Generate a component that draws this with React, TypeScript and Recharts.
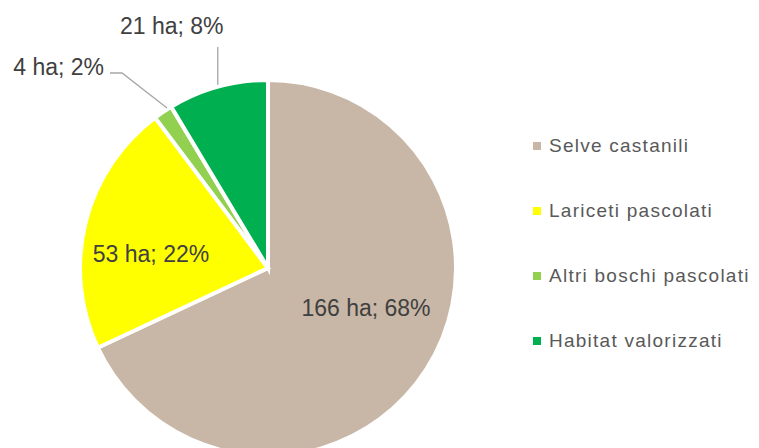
import React from "react";
import { PieChart, Pie, Cell, Legend } from "recharts";

const categories = ["Selve castanili", "Lariceti pascolati", "Altri boschi pascolati", "Habitat valorizzati"];
const hectares = [166, 53, 4, 21];
const percents = [68, 22, 2, 8];
const colors = ["#C8B7A6", "#FFFF00", "#92D050", "#00B050"];

const data = categories.map((name, i) => ({ name, value: hectares[i], pct: percents[i] }));

const RAD = Math.PI / 180;
const LABEL_FONT = "'Liberation Sans', Arial, sans-serif";

const renderLabel = (props: any) => {
  const { cx, cy, midAngle, outerRadius, index } = props;
  const text = `${hectares[index]} ha; ${percents[index]}%`;
  const common = { fill: "#404040", fontSize: 23, fontFamily: LABEL_FONT };
  const ex = cx + outerRadius * Math.cos(-midAngle * RAD);
  const ey = cy + outerRadius * Math.sin(-midAngle * RAD);
  if (index === 0) {
    return <text x={cx + 98} y={cy + 48} textAnchor="middle" {...common}>{text}</text>;
  }
  if (index === 1) {
    return <text x={cx - 117} y={cy - 6} textAnchor="middle" {...common}>{text}</text>;
  }
  if (index === 2) {
    return (
      <g>
        <polyline points={`${ex + 4},${ey - 4} ${cx - 146},${cy - 195} ${cx - 158},${cy - 195}`} fill="none" stroke="#A6A6A6" strokeWidth={1.3} />
        <text x={cx - 164} y={cy - 193} textAnchor="end" {...common}>{text}</text>
      </g>
    );
  }
  return (
    <g>
      <line x1={ex} y1={ey - 2} x2={ex} y2={cy - 221} stroke="#A6A6A6" strokeWidth={1.3} />
      <text x={ex - 46} y={cy - 234} textAnchor="middle" {...common}>{text}</text>
    </g>
  );
};

const renderLegend = () => {
  return (
    <div>
      {categories.map((name, i) => (
        <div key={i} style={{ height: 65, display: "flex", alignItems: "center" }}>
          <span style={{ display: "inline-block", width: 8, height: 8, background: colors[i], marginRight: 8 }} />
          <span style={{ color: "#595959", fontSize: 19, fontFamily: LABEL_FONT, letterSpacing: 1.25, whiteSpace: "nowrap" }}>{name}</span>
        </div>
      ))}
    </div>
  );
};

export default function App() {
  return (
    <div style={{ position: "absolute", left: 0, top: 0, width: 759, height: 448, background: "#fff" }}>
      <PieChart width={759} height={448} margin={{ top: 0, right: 0, bottom: 0, left: 0 }}>
        <Pie
          data={data}
          dataKey="value"
          nameKey="name"
          cx={268}
          cy={268}
          outerRadius={188}
          startAngle={90}
          endAngle={-270}
          stroke="#FFFFFF"
          strokeWidth={4}
          label={renderLabel}
          labelLine={false}
          isAnimationActive={false}
        >
          {data.map((d, i) => (
            <Cell key={i} fill={colors[i]} />
          ))}
        </Pie>
        <Legend
          layout="vertical"
          content={renderLegend}
          wrapperStyle={{ position: "absolute", left: 533, top: 113, width: 226 }}
        />
      </PieChart>
    </div>
  );
}
